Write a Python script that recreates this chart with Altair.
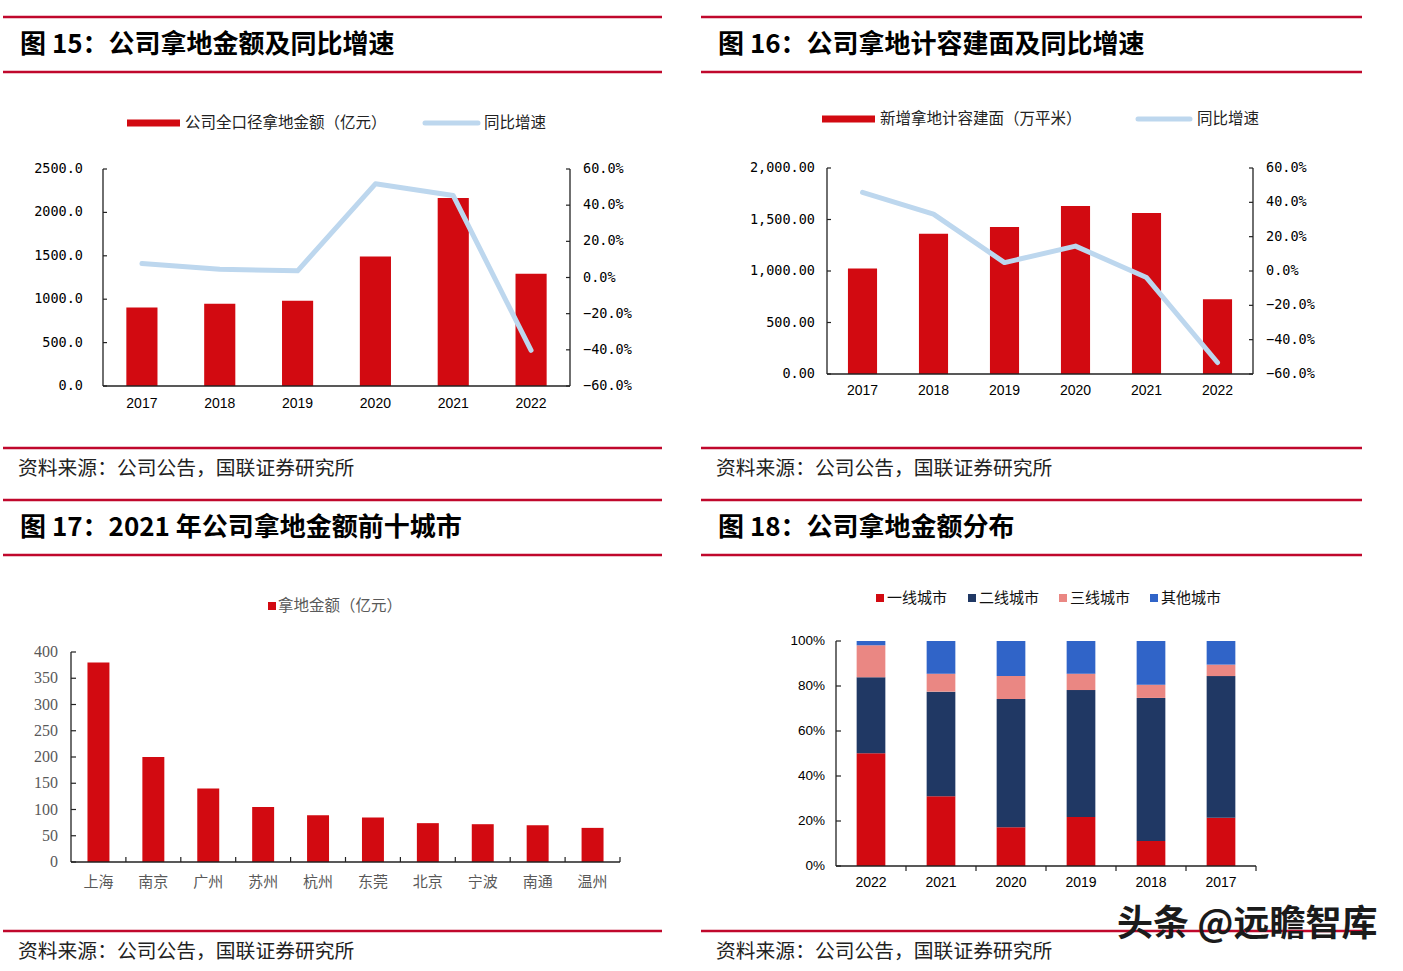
import altair as alt
import pandas as pd

# ---------------- data ----------------
years = ["2017", "2018", "2019", "2020", "2021", "2022"]
land_amount = [905, 947, 982, 1491, 2166, 1292]            # 亿元
land_amount_yoy = [0.077, 0.046, 0.037, 0.518, 0.453, -0.403]
floor_area = [1024, 1361, 1426, 1630, 1562, 726]           # 万平米
floor_area_yoy = [0.458, 0.331, 0.049, 0.145, -0.038, -0.533]

cities = ["上海", "南京", "广州", "苏州", "杭州", "东莞", "北京", "宁波", "南通", "温州"]
city_amount = [380, 200, 140, 105, 89, 85, 74, 72, 70, 65]

dist_years = ["2022", "2021", "2020", "2019", "2018", "2017"]
tiers = ["一线城市", "二线城市", "三线城市", "其他城市"]
tier1 = [50.1, 31.0, 17.2, 21.8, 11.1, 21.5]
tier2 = [33.8, 46.5, 57.0, 56.4, 63.6, 62.9]
tier3 = [14.2, 8.0, 10.2, 7.3, 5.9, 5.1]
tier_other = [1.9, 14.5, 15.6, 14.5, 19.4, 10.5]

amount_ticks = [0, 500, 1000, 1500, 2000, 2500]
area_ticks = [0, 500, 1000, 1500, 2000]
pct_ticks = [-0.6, -0.4, -0.2, 0.0, 0.2, 0.4, 0.6]
city_ticks = [0, 50, 100, 150, 200, 250, 300, 350, 400]
share_ticks = [0.0, 0.2, 0.4, 0.6, 0.8, 1.0]

titles = ["图 15：公司拿地金额及同比增速", "图 16：公司拿地计容建面及同比增速",
          "图 17：2021 年公司拿地金额前十城市", "图 18：公司拿地金额分布"]
source = "资料来源：公司公告，国联证券研究所"
watermark_text = "头条 @远瞻智库"

# ---------------- styles ----------------
RED = "#D20A11"
LINE_BLUE = "#BDD7EE"
NAVY = "#203864"
PINK = "#EA8783"
BLUE = "#3064C8"
RULE = "#C0082C"
AXIS = "#222222"
GRAY = "#595959"
CJK = "Noto Sans CJK SC"
MONO = "DejaVu Sans Mono"
ONE = pd.DataFrame({"k": [0]})

layers = []


def add(*charts):
    layers.extend(charts)


def hrule(x1, x2, y, color=RULE, width=2.5):
    return alt.Chart(ONE).mark_rule(color=color, strokeWidth=width).encode(
        x=alt.value(x1), x2=alt.value(x2), y=alt.value(y))


def vrule(x, y1, y2, color=AXIS, width=1.3):
    return alt.Chart(ONE).mark_rule(color=color, strokeWidth=width).encode(
        x=alt.value(x), y=alt.value(y1), y2=alt.value(y2))


def label(s, x, y, size, color="#111", weight="normal", font=CJK, align="left"):
    return alt.Chart(ONE).mark_text(text=s, align=align, baseline="middle", font=font,
                                    fontSize=size, fontWeight=weight, color=color).encode(
        x=alt.value(x), y=alt.value(y))


def box(x1, x2, y1, y2, color):
    return alt.Chart(ONE).mark_rect(color=color).encode(
        x=alt.value(x1), x2=alt.value(x2), y=alt.value(y1), y2=alt.value(y2))


def chrome(idx, left, right, top):
    add(hrule(left, right, top),
        hrule(left, right, top + 55),
        label(titles[idx], left + 17, top + 28, 26, color="#000", weight="bold"),
        hrule(left, right, top + 431),
        label(source, left + 15, top + 452, 19.8, color="#222"))


def ylabels(ticks, scale, x, fmt, font, size, align="right", color="#000"):
    return alt.Chart(pd.DataFrame({"v": ticks})).mark_text(
        align=align, baseline="middle", font=font, fontSize=size, color=color).encode(
        y=alt.Y("v:Q", scale=scale, axis=None), x=alt.value(x),
        text=alt.Text("v:Q", format=fmt))


def yticks(ticks, scale, xa, xb):
    return alt.Chart(pd.DataFrame({"v": ticks})).mark_rule(color=AXIS, strokeWidth=1.2).encode(
        y=alt.Y("v:Q", scale=scale, axis=None), x=alt.value(xa), x2=alt.value(xb))


def xlabels(cats, scale, y, font, size, color="#000"):
    return alt.Chart(pd.DataFrame({"c": cats})).mark_text(
        align="center", baseline="middle", font=font, fontSize=size, color=color).encode(
        x=alt.X("c:N", scale=scale, axis=None), y=alt.value(y), text="c:N")


# ---------------- dual-axis panels (15 and 16) ----------------
def dual_panel(idx, left, right, x0, x1, ytop, ybot, vals, yoy, ticks, fmt, dom,
               lab_left, lab_right, lab_y, bar_frac, legend_pos, legend_texts):
    chrome(idx, left, right, 17)
    df = pd.DataFrame({"year": years, "value": vals, "yoy": yoy})
    xs = alt.Scale(domain=years, range=[x0, x1], paddingInner=1 - bar_frac,
                   paddingOuter=(1 - bar_frac) / 2)
    ls = alt.Scale(domain=dom, range=[ybot, ytop], nice=False, zero=True)
    rs = alt.Scale(domain=[-0.6, 0.6], range=[ybot, ytop], nice=False, zero=False)
    (rx1, rx2, ry, tx1, lx1, lx2, tx2) = legend_pos
    add(
        box(rx1, rx2, ry - 3.5, ry + 3.5, RED),
        label(legend_texts[0], tx1, ry, 15.5, color="#222"),
        alt.Chart(ONE).mark_rule(color=LINE_BLUE, strokeWidth=5, strokeCap="round").encode(
            x=alt.value(lx1), x2=alt.value(lx2), y=alt.value(ry)),
        label(legend_texts[1], tx2, ry, 15.5, color="#222"),
        alt.Chart(df).mark_bar(color=RED).encode(
            x=alt.X("year:N", scale=xs, axis=None),
            y=alt.Y("value:Q", scale=ls, axis=None)),
        alt.Chart(df).mark_line(color=LINE_BLUE, strokeWidth=5, strokeCap="round",
                                strokeJoin="round").encode(
            x=alt.X("year:N", scale=xs, axis=None),
            y=alt.Y("yoy:Q", scale=rs, axis=None)),
        vrule(x0, ytop, ybot), vrule(x1, ytop, ybot),
        alt.Chart(ONE).mark_rule(color=AXIS, strokeWidth=1.5).encode(
            x=alt.value(x0), x2=alt.value(x1), y=alt.value(ybot)),
        yticks(ticks, ls, x0, x0 + 4),
        yticks(pct_ticks, rs, x1 - 4, x1),
        ylabels(ticks, ls, lab_left, fmt, MONO, 13.5),
        ylabels(pct_ticks, rs, lab_right, ".1%", MONO, 13.5, align="left"),
        xlabels(years, xs, lab_y, "Liberation Sans", 14),
    )


dual_panel(0, 3, 662, 103, 570, 169, 386, land_amount, land_amount_yoy, amount_ticks,
           ".1f", [0, 2500], 83, 583, 404, 0.40,
           (127, 180, 123, 185, 425, 478, 484),
           ["公司全口径拿地金额（亿元）", "同比增速"])

dual_panel(1, 701, 1362, 827, 1253, 168, 374, floor_area, floor_area_yoy, area_ticks,
           ",.2f", [0, 2000], 815, 1266, 391, 0.41,
           (822, 875, 119, 880, 1138, 1190, 1197),
           ["新增拿地计容建面（万平米）", "同比增速"])

# ---------------- panel 17: top ten cities ----------------
chrome(2, 3, 662, 500)
x0, x1, ytop, ybot = 71, 620, 652, 862
df17 = pd.DataFrame({"city": cities, "amount": city_amount})
xs17 = alt.Scale(domain=cities, range=[x0, x1], paddingInner=0, paddingOuter=0)
ys17 = alt.Scale(domain=[0, 400], range=[ybot, ytop], nice=False)
add(
    box(268, 276, 602, 610, RED),
    label("拿地金额（亿元）", 278, 606, 15.5, color=GRAY),
    alt.Chart(df17).mark_bar(color=RED, width=alt.RelativeBandSize(band=0.4)).encode(
        x=alt.X("city:N", scale=xs17, axis=None),
        y=alt.Y("amount:Q", scale=ys17, axis=None)),
    vrule(x0, ytop, ybot),
    alt.Chart(ONE).mark_rule(color=AXIS, strokeWidth=1.5).encode(
        x=alt.value(x0), x2=alt.value(x1), y=alt.value(ybot)),
    alt.Chart(df17).mark_rule(color=AXIS, strokeWidth=1.2).encode(
        x=alt.X("city:N", scale=xs17, axis=None, bandPosition=1),
        y=alt.value(ybot - 5), y2=alt.value(ybot)),
    yticks(city_ticks, ys17, x0, x0 + 5),
    ylabels(city_ticks, ys17, 58, "d", "Liberation Serif", 16, color=GRAY),
    xlabels(cities, xs17, 882, CJK, 15, color=GRAY),
)

# ---------------- panel 18: distribution by city tier ----------------
chrome(3, 701, 1362, 500)
x0, x1, ytop, ybot = 836, 1256, 641, 866
rows = []
for i, y in enumerate(dist_years):
    for j, (t, series) in enumerate(zip(tiers, [tier1, tier2, tier3, tier_other])):
        rows.append({"year": y, "tier": t, "share": series[i], "idx": j})
df18 = pd.DataFrame(rows)
xs18 = alt.Scale(domain=dist_years, range=[x0, x1], paddingInner=0, paddingOuter=0)
ys18 = alt.Scale(domain=[0, 1], range=[ybot, ytop], nice=False)
for sx, tx, col, t in zip([876, 968, 1059, 1150], [887, 979, 1070, 1161],
                          [RED, NAVY, PINK, BLUE], tiers):
    add(box(sx, sx + 8, 594, 602, col), label(t, tx, 598, 15, color="#111"))
add(
    alt.Chart(df18).mark_bar(width=alt.RelativeBandSize(band=0.41)).encode(
        x=alt.X("year:N", scale=xs18, axis=None),
        y=alt.Y("share:Q", stack="normalize", scale=ys18, axis=None),
        color=alt.Color("tier:N", scale=alt.Scale(domain=tiers,
                                                  range=[RED, NAVY, PINK, BLUE]),
                        legend=None),
        order=alt.Order("idx:Q", sort="ascending")),
    vrule(x0, ytop, ybot),
    alt.Chart(ONE).mark_rule(color=AXIS, strokeWidth=1.5).encode(
        x=alt.value(x0), x2=alt.value(x1), y=alt.value(ybot)),
    alt.Chart(pd.DataFrame({"c": dist_years})).mark_rule(color=AXIS, strokeWidth=1.2).encode(
        x=alt.X("c:N", scale=xs18, axis=None, bandPosition=1),
        y=alt.value(ybot), y2=alt.value(ybot + 5)),
    yticks(share_ticks, ys18, x0, x0 + 5),
    ylabels(share_ticks, ys18, 825, ".0%", "Liberation Sans", 13.5),
    xlabels(dist_years, xs18, 883, "Liberation Sans", 14),
    label(watermark_text, 1117, 925, 36, color="#1b1b1b", weight="bold"),
)

chart = alt.layer(*layers).resolve_scale(
    x="independent", y="independent", color="independent"
).properties(width=1400, height=966, padding=0).configure_view(strokeWidth=0)

chart.save("out.html", embed_options={"renderer": "svg", "actions": False})
